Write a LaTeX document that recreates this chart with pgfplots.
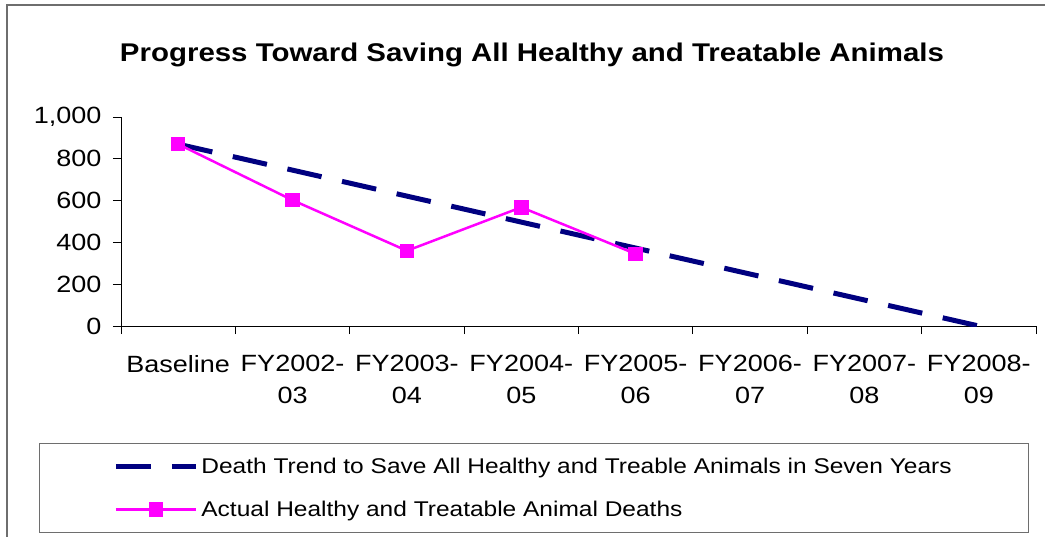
\documentclass[border=0pt]{standalone}
\usepackage{fontspec}
\setmainfont{Liberation Sans}[FakeStretch=1.15]
\usepackage{pgfplots}
\pgfplotsset{compat=1.18}

\definecolor{trendnavy}{RGB}{0,0,128}
\definecolor{actualpink}{RGB}{255,0,255}
\definecolor{framegray}{RGB}{110,110,110}

\begin{document}
\begin{tikzpicture}[font=\fontsize{23.5}{27}\selectfont]
\useasboundingbox (0pt,0pt) rectangle (1045pt,-537pt);
% chart area frame (cut off at right and bottom in the reference)
\draw[framegray, line width=1.5pt] (7pt,-540pt) -- (7pt,-5pt) -- (1050pt,-5pt);
\node[font=\fontsize{25.6}{30}\selectfont\bfseries] at (532pt,-55pt)
  {Progress Toward Saving All Healthy and Treatable Animals};

\begin{axis}[
    at={(121pt,-326pt)}, anchor=south west,
    scale only axis, width=915pt, height=209pt,
    xmin=-0.5, xmax=7.5, ymin=0, ymax=1000,
    axis x line*=bottom, axis y line*=left,
    axis line style={-, black, line width=0.8pt},
    tick align=outside, major tick length=8pt,
    tick style={black, line width=0.8pt},
    xtick={-0.5,0.5,...,7.5}, xticklabels={},
    extra x ticks={0,1,2,3,4,5,6,7},
    extra x tick labels={Baseline, {FY2002-\\03}, {FY2003-\\04}, {FY2004-\\05},
        {FY2005-\\06}, {FY2006-\\07}, {FY2007-\\08}, {FY2008-\\09}},
    extra x tick style={major tick length=0pt,
        xticklabel style={align=center, font=\fontsize{23.5}{32}\selectfont,
            anchor=north, yshift=-26pt}},
    ytick={0,200,...,1000},
    yticklabel style={xshift=-8pt,
        /pgf/number format/.cd, 1000 sep={,}, assume math mode=true},
    legend cell align=left,
    legend style={at={(axis description cs:0.4514,-0.775)}, anchor=center,
        draw=framegray, line width=1.5pt, inner xsep=74pt, inner ysep=11.5pt,
        row sep=20pt, nodes={inner sep=3pt},
        font=\fontsize{21.3}{25}\selectfont},
    legend image code/.code={
        \draw[mark repeat=2, mark phase=2, #1]
            plot coordinates {(0pt,0pt) (40pt,0pt) (80pt,0pt)};},
]

\addplot[trendnavy, line width=5pt, dash pattern=on 35pt off 21pt]
    coordinates {(0,870) (1,745.7) (2,621.4) (3,497.1) (4,372.9) (5,248.6) (6,124.3) (7,0)};
\addlegendentry{Death Trend to Save All Healthy and Treable Animals in Seven Years}

\addplot[actualpink, line width=2.5pt, mark=square*, mark size=6pt,
    mark options={solid, fill=actualpink}]
    coordinates {(0,870) (1,602) (2,360) (3,568) (4,345)};
\addlegendentry{Actual Healthy and Treatable Animal Deaths}

\end{axis}
\end{tikzpicture}
\end{document}
